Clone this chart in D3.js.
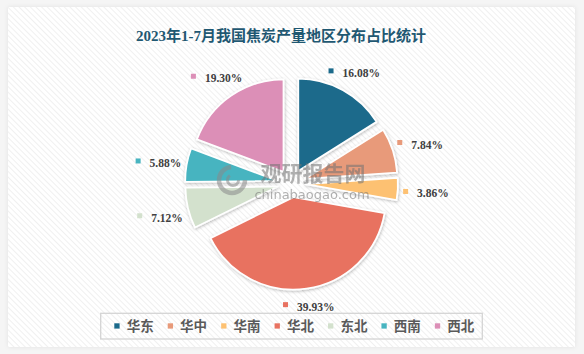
<!DOCTYPE html>
<html lang="zh">
<head>
<meta charset="UTF-8">
<title>2023年1-7月我国焦炭产量地区分布占比统计</title>
<style>
  html, body { margin: 0; padding: 0; background: #f5f5f5; }
  svg { display: block; }
  .title { font-family: "Liberation Serif", "Noto Sans CJK SC", serif; font-weight: bold; font-size: 15px; fill: #1f5872; }
  .val { font-family: "Liberation Serif", "DejaVu Serif", serif; font-weight: bold; font-size: 11.5px; fill: #404040; }
  .leg { font-family: "Noto Sans CJK SC", sans-serif; font-weight: bold; font-size: 13.5px; fill: #5a5a5a; }
</style>
</head>
<body>
<svg id="chart" width="584" height="354"></svg>
<script src="https://cdn.jsdelivr.net/npm/d3@7/dist/d3.min.js"></script>
<script>
// data
const regions = ["华东", "华中", "华南", "华北", "东北", "西南", "西北"];
const shares = [16.08, 7.84, 3.86, 39.93, 7.12, 5.88, 19.30];
const colors = ["#1b6a8b", "#e89a7a", "#fdc172", "#e87261", "#d3e1cd", "#47b4c0", "#dc8fb7"];
const titleText = "2023年1-7月我国焦炭产量地区分布占比统计";

const svg = d3.select("#chart");

const defs = svg.append("defs");
const pat = defs.append("pattern")
    .attr("id", "hatch")
    .attr("width", 4).attr("height", 4)
    .attr("patternUnits", "userSpaceOnUse")
    .attr("patternTransform", "rotate(-45)");
pat.append("rect").attr("width", 4).attr("height", 4).attr("fill", "#ffffff");
pat.append("line").attr("x1", 0).attr("y1", 0).attr("x2", 0).attr("y2", 4)
    .attr("stroke", "#ededed").attr("stroke-width", 1.6);

const sh = defs.append("filter").attr("id", "shadow")
    .attr("x", "-20%").attr("y", "-20%").attr("width", "140%").attr("height", "140%");
sh.append("feDropShadow").attr("dx", 0.5).attr("dy", 1).attr("stdDeviation", 1.4)
    .attr("flood-color", "#000").attr("flood-opacity", 0.28);

const psh = defs.append("filter").attr("id", "pshadow")
    .attr("x", "-5%").attr("y", "-5%").attr("width", "110%").attr("height", "110%");
psh.append("feDropShadow").attr("dx", 0).attr("dy", 0).attr("stdDeviation", 2)
    .attr("flood-color", "#000").attr("flood-opacity", 0.08);

// panel
svg.append("rect").attr("x", 8).attr("y", 7).attr("width", 567).attr("height", 340)
    .attr("fill", "url(#hatch)").attr("filter", "url(#pshadow)");

// title
svg.append("text").attr("class", "title")
    .attr("x", 281).attr("y", 40.5)
    .attr("text-anchor", "middle")
    .text(titleText);

// pie
const cx = 291.5, cy = 183.3, R = 92.5, explode = 14;
const pie = d3.pie().sort(null).value(d => d)(shares);
const arc = d3.arc().innerRadius(0).outerRadius(R);

const g = svg.append("g").attr("transform", `translate(${cx},${cy})`);

const mid = d => (d.startAngle + d.endAngle) / 2;

g.selectAll("path.slice")
  .data(pie)
  .join("path")
  .attr("class", "slice")
  .attr("d", arc)
  .attr("transform", d => `translate(${Math.sin(mid(d)) * explode},${-Math.cos(mid(d)) * explode})`)
  .attr("fill", (d, i) => colors[i])
  .attr("stroke", "#ffffff")
  .attr("stroke-width", 1.8)
  .attr("stroke-linejoin", "round")
  .attr("filter", "url(#shadow)");

// watermark
const wm = svg.append("g").attr("opacity", 0.55);
wm.append("circle").attr("cx", 232).attr("cy", 180).attr("r", 13)
  .attr("fill", "none").attr("stroke", "#8a8a8a").attr("stroke-width", 4.5)
  .attr("stroke-dasharray", "60 22");
wm.append("circle").attr("cx", 233).attr("cy", 180).attr("r", 5.5)
  .attr("fill", "none").attr("stroke", "#8a8a8a").attr("stroke-width", 3)
  .attr("stroke-dasharray", "22 12");
wm.append("text").attr("x", 313).attr("y", 181)
  .attr("text-anchor", "middle")
  .style("font-family", "Noto Sans CJK SC").style("font-weight", "bold")
  .style("font-size", "21px").attr("fill", "#737373")
  .text("观研报告网");
wm.append("text").attr("x", 312).attr("y", 199)
  .attr("text-anchor", "middle")
  .style("font-family", "DejaVu Sans").style("font-size", "13px")
  .attr("fill", "#737373")
  .text("chinabaogao.com");

// data labels
const labR = R + explode + 5;
const lab = svg.append("g");
pie.forEach((d, i) => {
  const a = mid(d);
  const sx = Math.sin(a), sy = -Math.cos(a);
  const txt = shares[i].toFixed(2) + "%";
  const t = lab.append("text").attr("class", "val").text(txt);
  const tw = t.node().getComputedTextLength();
  const bw = 5 + 9 + tw, bh = 13;
  const dist = labR + bw / 2 * Math.abs(sx) + bh / 2 * Math.abs(sy);
  const bcx = cx + sx * dist;
  const bcy = cy + sy * dist + 3;
  const left = bcx - bw / 2;
  t.attr("x", left + 14).attr("y", bcy + 4);
  lab.append("rect")
    .attr("x", left).attr("y", bcy - 4.5)
    .attr("width", 5).attr("height", 5)
    .attr("fill", colors[i]);
});

// legend
const lg = svg.append("g");
lg.append("rect").attr("x", 100.7).attr("y", 313.3).attr("width", 381.6).attr("height", 25.7)
  .attr("fill", "none").attr("stroke", "#d4d4d4").attr("stroke-width", 1.3);
const lx = d3.scaleBand().domain(regions).range([108, 482]);
const items = lg.selectAll("g.item").data(regions).join("g")
  .attr("class", "item")
  .attr("transform", d => `translate(${lx(d) + 6.3},326)`);
items.append("rect").attr("x", 0).attr("y", -2.7).attr("width", 5.3).attr("height", 5.3)
  .attr("fill", (d, i) => colors[i]);
items.append("text").attr("class", "leg")
  .attr("x", 12.4).attr("y", 5)
  .text(d => d);
</script>
</body>
</html>
